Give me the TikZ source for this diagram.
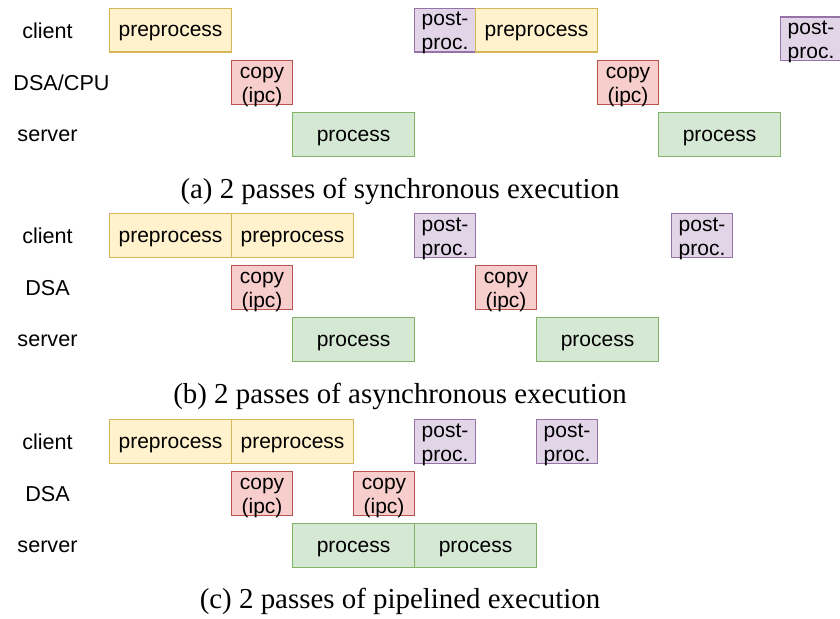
\documentclass[tikz,border=0pt]{standalone}
\usepackage{fontspec}
\setmainfont{Liberation Serif}
\setsansfont{Liberation Sans}
\definecolor{preF}{HTML}{FFF2CC}\definecolor{preD}{HTML}{D6B656}
\definecolor{cpyF}{HTML}{F8CECC}\definecolor{cpyD}{HTML}{B85450}
\definecolor{prcF}{HTML}{D5E8D4}\definecolor{prcD}{HTML}{82B366}
\definecolor{pstF}{HTML}{E1D5E7}\definecolor{pstD}{HTML}{9673A6}
\tikzset{
  blk/.style={draw, line width=1.1pt, minimum height=43.5pt, inner sep=0pt, anchor=north west},
  wide/.style={minimum width=122pt},
  narrow/.style={minimum width=61pt},
  preblk/.style={blk, wide, fill=preF, draw=preD},
  prcblk/.style={blk, wide, fill=prcF, draw=prcD},
  cpyblk/.style={blk, narrow, fill=cpyF, draw=cpyD},
  pstblk/.style={blk, narrow, fill=pstF, draw=pstD},
  txt/.style={font=\sffamily\fontsize{21}{24}\selectfont, anchor=base, inner sep=0pt},
  rowlbl/.style={font=\sffamily\fontsize{21.6}{24}\selectfont, anchor=base, inner sep=0pt},
  captxt/.style={font=\rmfamily\fontsize{28.9}{32}\selectfont, anchor=base, inner sep=0pt}
}
\newcommand\oneline[5]{%
  \node[#2] (#1) at (#3,#4) {};
  \node[txt] (#1t) at ([yshift=-29pt]#1.north) {#5};}
\newcommand\twoline[6]{%
  \node[#2] (#1) at (#3,#4) {};
  \node[txt] (#1u) at ([yshift=-18pt]#1.north) {#5};
  \node[txt] (#1l) at ([yshift=-42pt]#1.north) {#6};}
\begin{document}
\begin{tikzpicture}[x=1pt, y=-1pt]
\fill[white] (0,0) rectangle (840,618);
\useasboundingbox (0,0) rectangle (840,618);
% ---------- (a) synchronous ----------
\node[rowlbl] (la1) at (47.5,38) {client};
\node[rowlbl] (la2) at (61.5,90) {DSA/CPU};
\node[rowlbl] (la3) at (47.5,141) {server};
\oneline{pa1}{preblk}{109}{8}{preprocess}
\twoline{ca1}{cpyblk}{231}{60}{copy}{(ipc)}
\oneline{sa1}{prcblk}{292}{112}{process}
\twoline{qa1}{pstblk}{414}{8}{post-}{proc.}
\oneline{pa2}{preblk}{475}{8}{preprocess}
\twoline{ca2}{cpyblk}{597}{60}{copy}{(ipc)}
\oneline{sa2}{prcblk}{658}{112}{process}
\twoline{qa2}{pstblk}{780}{16.5}{post-}{proc.}
\node[captxt] (capa) at (400,198) {(a) 2 passes of synchronous execution};
% ---------- (b) asynchronous ----------
\node[rowlbl] (lb1) at (47.5,243) {client};
\node[rowlbl] (lb2) at (47.5,295) {DSA};
\node[rowlbl] (lb3) at (47.5,346) {server};
\oneline{pb1}{preblk}{109}{213}{preprocess}
\oneline{pb2}{preblk}{231}{213}{preprocess}
\twoline{cb1}{cpyblk}{231}{265}{copy}{(ipc)}
\oneline{sb1}{prcblk}{292}{317}{process}
\twoline{qb1}{pstblk}{414}{213}{post-}{proc.}
\twoline{cb2}{cpyblk}{475}{265}{copy}{(ipc)}
\oneline{sb2}{prcblk}{536}{317}{process}
\twoline{qb2}{pstblk}{671}{213}{post-}{proc.}
\node[captxt] (capb) at (400,403) {(b) 2 passes of asynchronous execution};
% ---------- (c) pipelined ----------
\node[rowlbl] (lc1) at (47.5,449) {client};
\node[rowlbl] (lc2) at (47.5,501) {DSA};
\node[rowlbl] (lc3) at (47.5,552) {server};
\oneline{pc1}{preblk}{109}{419}{preprocess}
\oneline{pc2}{preblk}{231}{419}{preprocess}
\twoline{cc1}{cpyblk}{231}{471}{copy}{(ipc)}
\twoline{cc2}{cpyblk}{353}{471}{copy}{(ipc)}
\oneline{sc1}{prcblk}{292}{523}{process}
\oneline{sc2}{prcblk}{414}{523}{process}
\twoline{qc1}{pstblk}{414}{419}{post-}{proc.}
\twoline{qc2}{pstblk}{536}{419}{post-}{proc.}
\node[captxt] (capc) at (400,608) {(c) 2 passes of pipelined execution};
\end{tikzpicture}
\end{document}
